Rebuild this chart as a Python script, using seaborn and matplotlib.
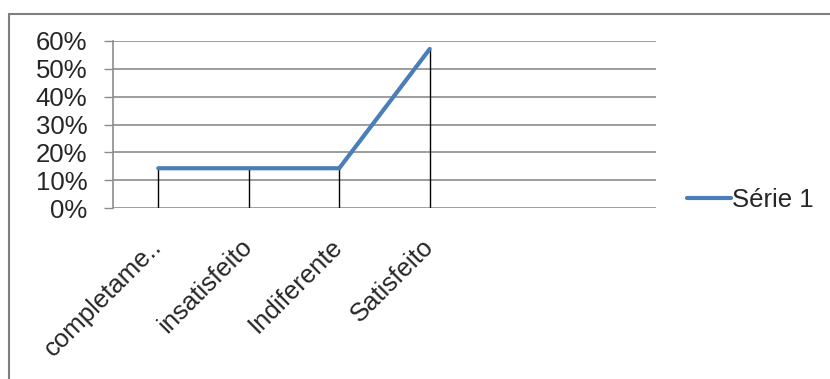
import numpy as np
import pandas as pd
import matplotlib.pyplot as plt
from matplotlib.lines import Line2D
from matplotlib.ticker import PercentFormatter
import seaborn as sns

# dados (7 respostas: 1, 1, 1, 4)
categorias = ["completame..", "insatisfeito", "Indiferente", "Satisfeito", "", ""]
valores = [1 / 7, 1 / 7, 1 / 7, 4 / 7, np.nan, np.nan]
serie_nome = "Série 1"

df = pd.DataFrame({"pos": np.arange(len(categorias)), "valor": valores, "serie": serie_nome})

sns.set_style("white")
plt.rcParams["font.family"] = ["Liberation Sans", "DejaVu Sans"]
fs = 18.5

fig = plt.figure(figsize=(8.3, 3.79), dpi=100)
ax = fig.add_axes([113 / 830, 1 - 208 / 379, 543 / 830, 167 / 379])

grid_cor = "#8c8c8c"
for v in np.arange(0, 0.61, 0.1):
    ax.axhline(v, color=grid_cor, lw=1.2, zorder=0)

# linhas de queda até o eixo
ok = df.dropna()
ax.vlines(ok["pos"], 0, ok["valor"], color="black", lw=1, zorder=1)

sns.lineplot(data=df, x="pos", y="valor", hue="serie", palette=["#4a7ebb"],
             lw=3, ax=ax, zorder=2, legend=True)

ax.set_xlim(-0.5, len(categorias) - 0.5)
ax.set_ylim(0, 0.6)
ax.set_yticks(np.arange(0, 0.61, 0.1))
ax.yaxis.set_major_formatter(PercentFormatter(1.0, decimals=0))
ax.set_xticks(df["pos"])
ax.set_xticklabels(categorias, rotation=45, ha="right", va="center",
                   rotation_mode="anchor", fontsize=fs)
ax.tick_params(axis="x", length=0, pad=25)
ax.tick_params(axis="y", length=6.5, width=1, color=grid_cor, pad=12, labelsize=fs,
               left=True)
ax.set_xlabel("")
ax.set_ylabel("")

for s in ["top", "right", "bottom"]:
    ax.spines[s].set_visible(False)
ax.spines["left"].set_color(grid_cor)
ax.spines["left"].set_linewidth(1.2)

leg = ax.legend(loc="center left", bbox_to_anchor=(1.058, 0.05), frameon=False,
                fontsize=fs, handlelength=1.7, handletextpad=0.05,
                borderaxespad=0, borderpad=0)
for t in leg.get_texts():
    t.set_text(serie_nome)

# moldura do gráfico
x0, y0 = 8.5 / 830, 1 - 13.5 / 379
fig.add_artist(Line2D([x0, 1], [y0, y0], color="#7f7f7f", lw=1.5, transform=fig.transFigure))
fig.add_artist(Line2D([x0, x0], [0, y0], color="#7f7f7f", lw=1.5, transform=fig.transFigure))

fig.savefig("out.png", dpi=100, facecolor="white")
